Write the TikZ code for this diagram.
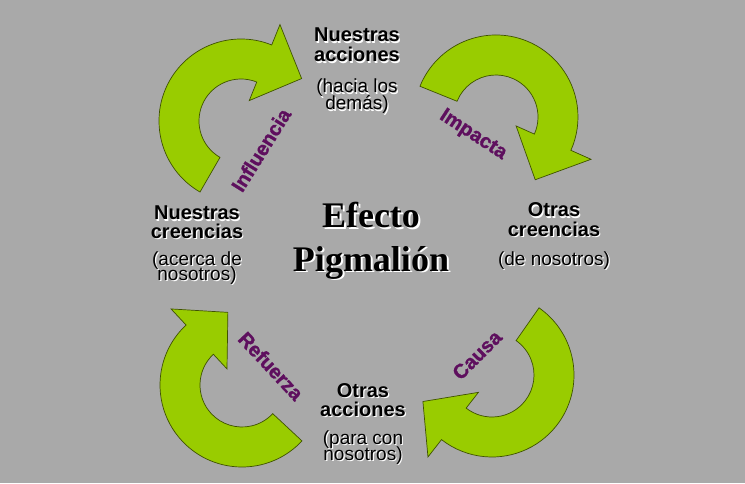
\documentclass[tikz,border=0pt]{standalone}
\usepackage{fontspec}
\setmainfont{Liberation Sans}
\newfontfamily\titlefont{Liberation Serif}
\newfontfamily\labfont[FakeBold=1.3]{Liberation Sans Bold}
\usetikzlibrary{calc}
\definecolor{bg}{HTML}{A9A9A9}
\definecolor{agreen}{HTML}{99CC00}
\definecolor{aline}{HTML}{3F5200}
\definecolor{lpurple}{HTML}{5E0F5E}
\tikzset{
  garrowstyle/.style={fill=agreen, draw=aline, line width=0.7pt, line join=miter},
  bt/.style={anchor=base, inner sep=0pt, font=\fontsize{20}{20}\selectfont\bfseries},
  rt/.style={anchor=base, inner sep=0pt, font=\fontsize{19}{19}\selectfont},
  tt/.style={anchor=base, inner sep=0pt, font=\titlefont\fontsize{36}{36}\selectfont\bfseries},
  lab/.style={inner sep=0pt, text=lpurple, font=\labfont\fontsize{20}{20}\selectfont},
}
\newcommand\garrow[4]{%
  \filldraw[garrowstyle] ($(#1)+(#2:82pt)$) arc[start angle=#2, end angle=#3, radius=82pt]
    -- ($(#1)+(#3:104pt)$) -- ($(#1)+(#4:74pt)$) -- ($(#1)+(#3:22pt)$)
    -- ($(#1)+(#3:42pt)$) arc[start angle=#3, end angle=#2, radius=42pt] -- cycle;}
% text with a white drop shadow, in one node
\newcommand\shd[2][1.2pt]{\rlap{\hspace*{#1}\raisebox{-#1}[0pt][0pt]{\textcolor{white}{#2}}}#2}
\begin{document}
\begin{tikzpicture}[x=1pt, y=1pt]
\fill[bg] (0,0) rectangle (745,483);
\useasboundingbox (0,0) rectangle (745,483);
% arrow centres
\coordinate (c1) at (241,362);
\coordinate (c2) at (496,366);
\coordinate (c3) at (492,108);
\coordinate (c4) at (242,98);
\garrow{c1}{240}{68}{35}
\garrow{c2}{158}{-24}{-58}
\garrow{c3}{55}{-128}{-159}
\garrow{c4}{-43}{-227}{-259}
% top block
\node[bt] (na1) at (357,441) {\shd{Nuestras}};
\node[bt] (na2) at (357,421) {\shd{acciones}};
\node[rt] (na3) at (357,390) {\shd{(hacia los}};
\node[rt] (na4) at (357,373) {\shd{demás)}};
% left block
\node[bt] (nc1) at (197,263) {\shd{Nuestras}};
\node[bt] (nc2) at (197,245) {\shd{creencias}};
\node[rt] (nc3) at (197,218) {\shd{(acerca de}};
\node[rt] (nc4) at (197,203) {\shd{nosotros)}};
% right block
\node[bt] (oc1) at (554,266) {\shd{Otras}};
\node[bt] (oc2) at (554,247) {\shd{creencias}};
\node[rt] (oc3) at (554,218) {\shd{(de nosotros)}};
% bottom block
\node[bt] (oa1) at (363,86) {\shd{Otras}};
\node[bt] (oa2) at (363,67) {\shd{acciones}};
\node[rt] (oa3) at (363,39) {\shd{(para con}};
\node[rt] (oa4) at (363,23) {\shd{nosotros)}};
% title
\node[tt] (t1) at (371,255) {\shd[2pt]{Efecto}};
\node[tt] (t2) at (371,212) {\shd[2pt]{Pigmalión}};
% arrow labels
\node[lab, rotate=58] (l1) at (261,333) {Influencia};
\node[lab, rotate=-33] (l2) at (473,348) {Impacta};
\node[lab, rotate=45] (l3) at (477,128) {Causa};
\node[lab, rotate=-47] (l4) at (271,117) {Refuerza};
\end{tikzpicture}
\end{document}
